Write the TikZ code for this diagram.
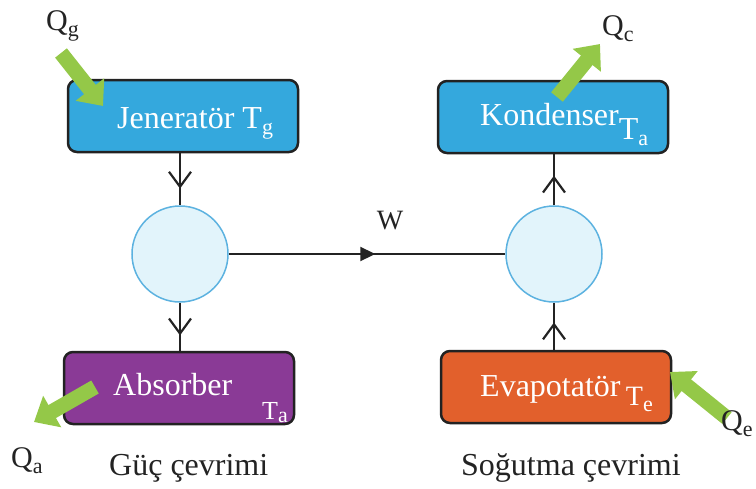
\documentclass[tikz,border=0pt]{standalone}
\usepackage{fontspec}
\setmainfont{Liberation Serif}
\usetikzlibrary{arrows.meta,decorations.markings}

\definecolor{unitblue}{RGB}{52,168,221}
\definecolor{unitpurple}{RGB}{138,58,150}
\definecolor{unitorange}{RGB}{226,96,44}
\definecolor{unitedge}{RGB}{34,34,34}
\definecolor{heatgreen}{RGB}{148,200,72}
\definecolor{machinefill}{RGB}{226,244,251}
\definecolor{machineedge}{RGB}{92,178,224}
\definecolor{inkgray}{RGB}{35,35,35}

% lowered, smaller index letter
\newcommand\lsub[2][6pt]{\raisebox{-#1}{\fontsize{22}{22}\selectfont #2}}

\tikzset{
  unit/.style={draw=unitedge, line width=2.5pt, rounded corners=9pt,
    minimum width=230pt, minimum height=72pt, inner sep=0pt},
  unittext/.style={text=white, font=\fontsize{32}{34}\selectfont,
    anchor=base west, inner sep=0pt},
  machine/.style={circle, draw=machineedge, line width=1.5pt, fill=machinefill,
    minimum size=96pt, inner sep=0pt},
  flow/.style={draw=inkgray, line width=2pt},
  midbarb/.style={flow, decoration={markings,
    mark=at position #1 with {\arrow{Straight Barb[length=15pt,width=22pt,line width=2.2pt]}}},
    postaction={decorate}},
  midtri/.style={flow, decoration={markings,
    mark=at position #1 with {\arrow{Triangle[length=15pt,width=14pt]}}},
    postaction={decorate}},
  heat/.style={draw=heatgreen, line width=15pt,
    -{Triangle[length=21pt,width=35pt]}},
  qlabel/.style={text=inkgray, font=\fontsize{30}{32}\selectfont,
    anchor=base west, inner sep=0pt},
  cyclelabel/.style={text=inkgray, font=\fontsize{32}{34}\selectfont,
    anchor=base west, inner sep=0pt}
}

\begin{document}
\begin{tikzpicture}[x=1pt,y=-1pt]
\useasboundingbox (0,0) rectangle (756,488);

% process units
\node[unit, fill=unitblue]   (jen) at (183,116) {};
\node[unit, fill=unitblue]   (kon) at (553,117) {};
\node[unit, fill=unitpurple] (abs) at (179,388) {};
\node[unit, fill=unitorange] (eva) at (556,387) {};

% unit captions
\node[unittext] (jent) at (117,128) {Jeneratör T\lsub{g}};
\node[unittext] (kont) at (480,125) {Kondenser\raisebox{-14pt}{T\lsub{a}}};
\node[unittext] (abst) at (113,395) {Absorber};
\node[unittext, font=\fontsize{26}{28}\selectfont] (absta) at (262,419) {T\lsub[3pt]{a}};
\node[unittext] (evat) at (480,396) {Evapotatör\,\raisebox{-9pt}{\fontsize{28}{30}\selectfont T\lsub{e}}};

% engine and heat pump
\node[machine] (c1) at (180,254) {};
\node[machine] (c2) at (554,254) {};

% working fluid connections
\draw[midbarb=0.68] (c1 |- jen.south) -- (c1.north);
\draw[midbarb=0.68] (c1.south) -- (c1 |- abs.north);
\draw[midbarb=0.58] (c2 |- eva.north) -- (c2.south);
\draw[midbarb=0.58] (c2.north) -- (c2 |- kon.south);

% work transfer
\draw[midtri=0.53] (c1.east) -- (c2.west);
\node[text=inkgray, font=\fontsize{28}{30}\selectfont, inner sep=0pt] (w) at (390,221) {W};

% heat flows
\coordinate (qgtail) at (61,53);
\coordinate (qgtip)  at (103,106);
\coordinate (qctail) at (557,97);
\coordinate (qctip)  at (600,44);
\coordinate (qatail) at (95,387);
\coordinate (qatip)  at (34,422);
\coordinate (qetail) at (727,418);
\coordinate (qetip)  at (670,372);
\draw[heat] (qgtail) -- (qgtip);
\draw[heat] (qctail) -- (qctip);
\draw[heat] (qatail) -- (qatip);
\draw[heat] (qetail) -- (qetip);

\node[qlabel] (qg) at (46,30)  {Q\lsub{g}};
\node[qlabel] (qc) at (602,35) {Q\lsub{c}};
\node[qlabel] (qa) at (11,467) {Q\lsub{a}};
\node[qlabel] (qe) at (721,430) {Q\lsub{e}};

% cycle names
\node[cyclelabel] (guc) at (109,475) {Güç çevrimi};
\node[cyclelabel] (sog) at (461,475) {Soğutma çevrimi};
\end{tikzpicture}
\end{document}
